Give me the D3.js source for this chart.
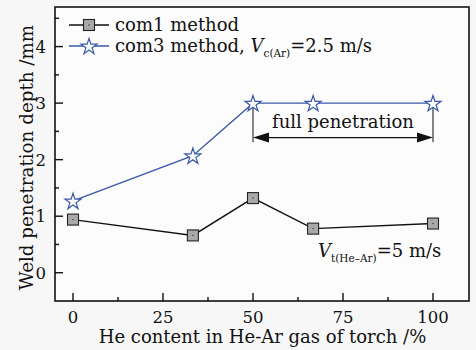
<!DOCTYPE html>
<html><head><meta charset="utf-8">
<script src="https://cdn.jsdelivr.net/npm/d3@7"></script>
<style>
html,body{margin:0;padding:0;background:#f7f7f7;}
svg{display:block;}
text{font-family:"DejaVu Serif",serif;fill:#111;}
</style></head><body>
<svg id="c" width="476" height="350"></svg>
<script>
const xHe = [0, 33.3, 50, 66.7, 100];
const com1 = [0.94, 0.66, 1.32, 0.78, 0.87];
const com3 = [1.27, 2.07, 3.0, 3.0, 3.0];
const xTicks = [0, 25, 50, 75, 100];
const yTicks = [0, 1, 2, 3, 4];
const fullPen = {x0: 50, x1: 100, y: 2.39, yTop: 2.98, yBot: 2.31};

const svg = d3.select("#c");
const L = 55, R = 469, T = 7, B = 301;
const x = d3.scaleLinear().domain([-5, 110]).range([L, R]);
const y = d3.scaleLinear().domain([-0.5, 4.7]).range([B, T]);
const blue = "#3a5aa8";

svg.append("rect").attr("x", L).attr("y", T).attr("width", R - L).attr("height", B - T)
  .attr("fill", "#fcfcfc").attr("stroke", "#111").attr("stroke-width", 1.6);

// x axis ticks (inward)
const gx = svg.append("g");
const xMinor = d3.range(12.5, 100, 25);
xTicks.forEach(t => gx.append("line").attr("x1", x(t)).attr("x2", x(t)).attr("y1", B).attr("y2", B - 8).attr("stroke", "#111").attr("stroke-width", 1.4));
xMinor.forEach(t => gx.append("line").attr("x1", x(t)).attr("x2", x(t)).attr("y1", B).attr("y2", B - 4).attr("stroke", "#111").attr("stroke-width", 1.4));
xTicks.forEach(t => gx.append("text").attr("x", x(t)).attr("y", B + 22).attr("text-anchor", "middle").attr("font-size", 16.5).text(t));

// y axis ticks
const gy = svg.append("g");
const yMinor = d3.range(0.5, 4.6, 1);
yTicks.forEach(t => gy.append("line").attr("x1", L).attr("x2", L + 8).attr("y1", y(t)).attr("y2", y(t)).attr("stroke", "#111").attr("stroke-width", 1.4));
yMinor.forEach(t => gy.append("line").attr("x1", L).attr("x2", L + 4).attr("y1", y(t)).attr("y2", y(t)).attr("stroke", "#111").attr("stroke-width", 1.4));
yTicks.forEach(t => gy.append("text").attr("x", L - 9).attr("y", y(t) + 6).attr("text-anchor", "end").attr("font-size", 16.5).text(t));

// axis titles
svg.append("text").attr("x", (100 + 425) / 2).attr("y", 343).attr("text-anchor", "middle").attr("font-size", 18)
  .text("He content in He-Ar gas of torch /%");
svg.append("text").attr("transform", `translate(33,${(32 + 283) / 2}) rotate(-90)`).attr("text-anchor", "middle").attr("font-size", 18.3)
  .text("Weld penetration depth /mm");

const line = d3.line().x(d => x(d[0])).y(d => y(d[1]));
const d1 = xHe.map((v, i) => [v, com1[i]]);
const d3s = xHe.map((v, i) => [v, com3[i]]);

// full penetration annotation
const ga = svg.append("g");
[fullPen.x0, fullPen.x1].forEach(v => ga.append("line").attr("x1", x(v)).attr("x2", x(v)).attr("y1", y(fullPen.yTop)).attr("y2", y(fullPen.yBot)).attr("stroke", "#111").attr("stroke-width", 1));
ga.append("line").attr("x1", x(fullPen.x0) + 10).attr("x2", x(fullPen.x1) - 10).attr("y1", y(fullPen.y)).attr("y2", y(fullPen.y)).attr("stroke", "#111").attr("stroke-width", 1.3);
const ay = y(fullPen.y);
ga.append("path").attr("d", `M${x(fullPen.x0)},${ay} l16,-5 l0,10 z`).attr("fill", "#111");
ga.append("path").attr("d", `M${x(fullPen.x1)},${ay} l-16,-5 l0,10 z`).attr("fill", "#111");
ga.append("text").attr("x", x((fullPen.x0 + fullPen.x1) / 2)).attr("y", ay - 10).attr("text-anchor", "middle").attr("font-size", 18).text("full penetration");

// series lines
svg.append("path").datum(d1).attr("d", line).attr("fill", "none").attr("stroke", "#111").attr("stroke-width", 1.4);
svg.append("path").datum(d3s).attr("d", line).attr("fill", "none").attr("stroke", blue).attr("stroke-width", 1.4);

function square(g, cx, cy) {
  g.append("rect").attr("x", cx - 5.5).attr("y", cy - 5.5).attr("width", 11).attr("height", 11)
    .attr("fill", "#a9a9a9").attr("stroke", "#222").attr("stroke-width", 1.1);
  g.append("rect").attr("x", cx - 0.6).attr("y", cy - 0.6).attr("width", 1.2).attr("height", 1.2).attr("fill", "#333");
}
const starPath = d3.symbol().type(d3.symbolStar).size(80)();
function star(g, cx, cy) {
  g.append("path").attr("d", starPath).attr("transform", `translate(${cx},${cy + 0.8})`)
    .attr("fill", "#fff").attr("stroke", blue).attr("stroke-width", 1.2);
}
const gm = svg.append("g");
d1.forEach(d => square(gm, x(d[0]), y(d[1])));
d3s.forEach(d => star(gm, x(d[0]), y(d[1])));

// legend
const lg = svg.append("g");
lg.append("line").attr("x1", 69).attr("x2", 109).attr("y1", 25).attr("y2", 25).attr("stroke", "#111").attr("stroke-width", 1.4);
square(lg, 89, 25);
lg.append("line").attr("x1", 69).attr("x2", 109).attr("y1", 46).attr("y2", 46).attr("stroke", blue).attr("stroke-width", 1.4);
star(lg, 89, 46);
lg.append("text").attr("x", 115).attr("y", 31).attr("font-size", 18).text("com1 method");
const t2 = lg.append("text").attr("x", 115).attr("y", 52).attr("font-size", 18);
t2.append("tspan").text("com3 method, ");
t2.append("tspan").attr("font-style", "italic").text("V");
t2.append("tspan").attr("font-size", 10.5).attr("dy", 5).text("c(Ar)");
t2.append("tspan").attr("dy", -5).text("=2.5 m/s");

// speed annotation
const t3 = svg.append("text").attr("x", 318).attr("y", 257).attr("font-size", 18);
t3.append("tspan").attr("font-style", "italic").text("V");
t3.append("tspan").attr("font-size", 10.5).attr("dy", 5).text("t(He\u2013Ar)");
t3.append("tspan").attr("dy", -5).text("=5 m/s");
</script>
</body></html>
